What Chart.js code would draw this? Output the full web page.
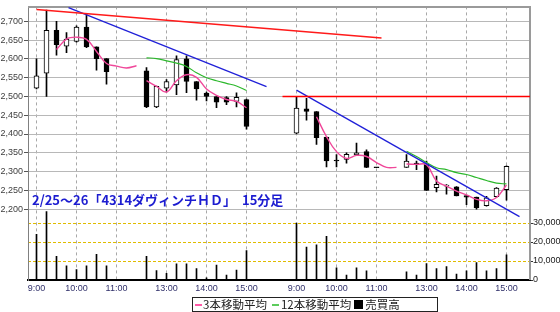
<!DOCTYPE html>
<html>
<head>
<meta charset="utf-8">
<script src="https://cdn.jsdelivr.net/npm/chart.js@4/dist/chart.umd.min.js"></script>
<style>
html,body{margin:0;padding:0;background:#fff;}
#wrap{position:relative;width:560px;height:312px;overflow:hidden;background:#fff;}
#c{position:absolute;left:0;top:0;}
#title{position:absolute;left:32px;top:193px;font:bold 13px "Noto Sans CJK JP";line-height:13px;color:#1c1cd0;white-space:pre;}
#legend{position:absolute;left:192px;top:297px;width:246px;height:15px;box-sizing:border-box;border:1px solid #222;background:#fff;
        font:11.5px "Noto Sans CJK JP";line-height:13px;color:#222;display:flex;align-items:center;padding-left:2px;}
#legend .ln{display:inline-block;width:7px;height:2px;margin-right:1px;}
#legend .sq{display:inline-block;width:9px;height:9px;background:#000;margin-right:2px;}
#legend .tx{white-space:pre;}
</style>
</head>
<body>
<div id="wrap">
<canvas id="c" width="560" height="312"></canvas>
<div id="title">2/25～26「4314ダヴィンチＨＤ」  15分足</div>
<div id="legend">
<span class="ln" style="background:#ff5aa8"></span><span class="tx" style="margin-right:5px">3本移動平均</span>
<span class="ln" style="background:#5ccc5c;margin-right:2px"></span><span class="tx" style="margin-right:3px">12本移動平均</span>
<span class="sq"></span><span class="tx">売買高</span>
</div>
</div>
<script>
// ---- data ----
const DAY_SLOTS = ['9:00','9:15','9:30','9:45','10:00','10:15','10:30','10:45','11:00','11:15','11:30',
                   '12:30','12:45','13:00','13:15','13:30','13:45','14:00','14:15','14:30','14:45','15:00'];
const SLOT_LABELS = [...DAY_SLOTS, '', '', '', '', ...DAY_SLOTS];

const OPEN  = [2522,2562,2676,2634,2647,2685,2632,2601,null,null,null,
               2568,2472,2522,2531,2600,2540,2509,2500,2497,2487,2492,
               null,null,null,null,
               2402,2467,2460,2392,2330,2332,2344,2353,2311,null,null,
               2311,2321,2320,2257,2261,2259,2236,2232,2209,2233,2252];
const HIGH  = [2600,2730,2700,2670,2688,2720,2632,2601,null,null,null,
               2577,2528,2545,2608,2608,2540,2512,2500,2500,2510,2493,
               null,null,null,null,
               2500,2495,2460,2392,2345,2350,2376,2358,2311,null,null,
               2345,2328,2328,2288,2265,2260,2236,2232,2234,2257,2315];
const LOW   = [2520,2500,2610,2617,2645,2630,2570,2533,null,null,null,
               2470,2470,2512,2505,2510,2490,2488,2470,2478,2472,2413,
               null,null,null,null,
               2400,2437,2372,2312,2312,2322,2342,2310,2310,null,null,
               2311,2305,2250,2246,2240,2235,2212,2200,2208,2232,2224];
const CLOSE = [2555,2676,2638,2653,2685,2632,2601,2566,null,null,null,
               2472,2527,2540,2598,2540,2520,2500,2485,2485,2498,2420,
               null,null,null,null,
               2469,2460,2390,2328,2328,2346,2350,2311,2310,null,null,
               2328,2320,2250,2266,2263,2235,2232,2203,2230,2256,2314];
const VOLUME = [24000,36000,12500,7500,5500,7500,13500,7500,null,null,null,
                12500,5000,3500,8500,8500,6000,1200,7800,2600,5200,15500,
                null,null,null,null,
                30000,17300,18500,23000,6400,2600,6400,4800,0,null,null,
                4300,2600,8700,6000,7000,3100,4800,9200,4800,6000,13300];
const MA3 = [null,null,2625,2653,2658,2652,2620,2588,2581,2576,2582,
             2542,2527,2512,2542,2558,2551,2520,2503,2492,2487,2470,
             null,null,null,null,
             null,null,2446,2393,2353,2335,2343,2340,2324,2311,2311,
             2320,2319,2318,2275,2261,2248,2238,2226,2222,2231,2264];
const MA12 = [null,null,null,null,null,null,null,null,null,null,null,
              2603,2601,2595,2589,2580,2563,2550,2542,2535,2528,2516,
              null,null,null,null,
              null,null,null,null,null,null,null,null,null,null,null,
              2354,2340,2324,2310,2305,2297,2292,2284,2276,2269,2267];
// sessions (first slot, last slot) – lines are broken between sessions
const SESSIONS = [[0,10],[11,21],[26,36],[37,47]];
// trend lines: [slot position, price]
const TREND_RED_1  = [[0, 2732], [34.5, 2656]];
const TREND_BLUE_1 = [[3.2, 2737], [23.0, 2526]];
const TREND_RED_2  = [[24.6, 2500], [49.4, 2500]];
const TREND_BLUE_2 = [[26.0, 2517], [48.3, 2180]];
const PRICE_TICKS = [2200,2250,2300,2350,2400,2450,2500,2550,2600,2650,2700];
const VOLUME_TICKS = [0,10000,20000,30000];

// ---- build ----
const slots = SLOT_LABELS.map((_, i) => i);
const hourIdx = slots.filter(i => SLOT_LABELS[i].endsWith(':00'));
const candleIdx = slots.filter(i => OPEN[i] != null);

const wickData = candleIdx.map(i => ({x: i, y: [LOW[i], HIGH[i]]}));
const bodyData = candleIdx.map(i => ({x: i, y: [OPEN[i], CLOSE[i]]}));
const bodyFill = candleIdx.map(i => CLOSE[i] > OPEN[i] ? '#ffffff' : '#000000');
const volData = slots.filter(i => VOLUME[i] != null).map(i => ({x: i, y: VOLUME[i]}));

function maSets(arr, color, width) {
  return SESSIONS.map(([a, b]) => ({
    type: 'line', yAxisID: 'y', order: 0,
    data: slots.filter(i => i >= a && i <= b && arr[i] != null).map(i => ({x: i, y: arr[i]})),
    borderColor: color, borderWidth: width, pointRadius: 0, tension: 0.4, fill: false
  })).filter(d => d.data.length);
}
function trend(pts, color, width) {
  return { type: 'line', yAxisID: 'y', order: 0, data: pts.map(([x, y]) => ({x, y})),
           borderColor: color, borderWidth: width, pointRadius: 0, tension: 0, fill: false };
}

const framePlugin = {
  id: 'frame',
  beforeDatasetsDraw(chart) {
    const {ctx, chartArea: a} = chart;
    ctx.save();
    ctx.strokeStyle = '#9a9a9a';
    ctx.lineWidth = 2;
    ctx.beginPath();
    ctx.moveTo(a.left, a.top + 0.5);
    ctx.lineTo(a.right, a.top + 0.5);
    ctx.lineTo(a.right, a.bottom);
    ctx.stroke();
    ctx.restore();
  }
};

new Chart(document.getElementById('c'), {
  type: 'line',
  data: {
    datasets: [
      trend(TREND_RED_1, '#ff1a1a', 1.5),
      trend(TREND_BLUE_1, '#2020d8', 1.3),
      trend(TREND_RED_2, '#ff0000', 1.5),
      trend(TREND_BLUE_2, '#2020d8', 1.3),
      ...maSets(MA3, '#f0489a', 1.4),
      ...maSets(MA12, '#2cb82c', 1.2),
      { type: 'bar', yAxisID: 'y', order: 1, grouped: false, data: bodyData,
        backgroundColor: bodyFill, borderColor: '#000', borderWidth: 1, borderSkipped: false,
        barThickness: 5, minBarLength: 1 },
      { type: 'bar', yAxisID: 'y', order: 2, grouped: false, data: wickData,
        backgroundColor: '#000', borderWidth: 0, barThickness: 1 },
      { type: 'bar', yAxisID: 'yv', order: 3, grouped: false, data: volData,
        backgroundColor: '#000', borderWidth: 0, barThickness: 1 }
    ]
  },
  options: {
    responsive: false, animation: false, devicePixelRatio: 1,
    layout: { padding: { top: 3, left: 0, right: 0, bottom: 0 } },
    plugins: { legend: { display: false }, title: { display: false }, tooltip: { enabled: false } },
    scales: {
      x: {
        type: 'linear', min: -0.85, max: 49.35, offset: false,
        afterBuildTicks: s => { s.ticks = hourIdx.map(v => ({value: v})); },
        afterFit: s => { s.height = 32; },
        ticks: { autoSkip: false, maxRotation: 0, padding: 3, color: '#30306a',
                 font: { family: 'Liberation Sans', size: 9 }, callback: v => SLOT_LABELS[v] },
        grid: { color: '#a8a8a8', lineWidth: 1, drawTicks: false, offset: false },
        border: { color: '#000', width: 2, dash: [3, 3] }
      },
      y: {
        type: 'linear', position: 'left', min: 2011, max: 2740,
        afterBuildTicks: s => { s.ticks = PRICE_TICKS.map(v => ({value: v})); },
        afterFit: s => { s.width = 28; },
        ticks: { padding: 1, color: '#404040', font: { family: 'Liberation Sans', size: 9 },
                 callback: v => v.toLocaleString('en-US') },
        grid: { color: '#b8b8b8', lineWidth: 1, tickLength: 4, tickColor: '#555' },
        border: { color: '#808080', width: 1 }
      },
      yv: {
        type: 'linear', position: 'right', min: 0, max: 144000,
        afterBuildTicks: s => { s.ticks = VOLUME_TICKS.map(v => ({value: v})); },
        afterFit: s => { s.width = 30; },
        ticks: { padding: 0, color: '#202020', font: { family: 'Liberation Sans', size: 9 },
                 callback: v => v.toLocaleString('en-US') },
        grid: { color: c => c.tick && c.tick.value === 0 ? 'rgba(0,0,0,0)' : '#e0bc00',
                lineWidth: 1, tickLength: 3, tickColor: '#333' },
        border: { display: false, dash: [3, 2] }
      }
    }
  },
  plugins: [framePlugin]
});
</script>
</body>
</html>
